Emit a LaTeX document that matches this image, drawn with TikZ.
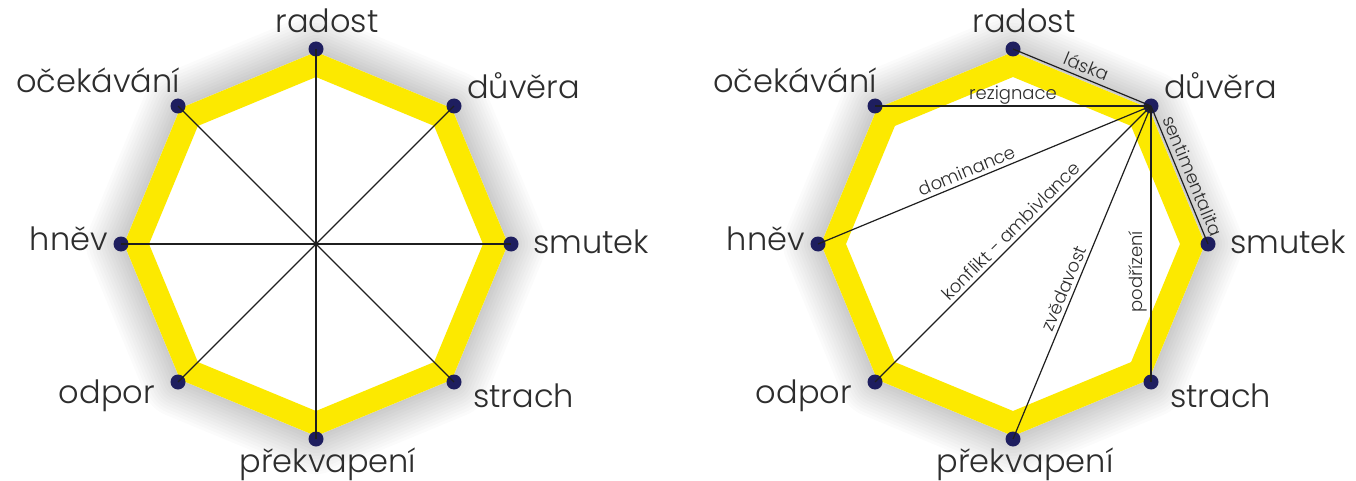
\documentclass[tikz,border=0pt]{standalone}
\usepackage{fontspec}
\IfFontExistsTF{Poppins Light}{\setmainfont{Poppins Light}}{\setmainfont{Poppins}}
\definecolor{octyellow}{RGB}{252,233,0}
\definecolor{dotblue}{RGB}{30,30,95}
\definecolor{txtgray}{RGB}{45,45,45}
\newcommand\octpath[1]{(0:#1) -- (45:#1) -- (90:#1) -- (135:#1) -- (180:#1) -- (225:#1) -- (270:#1) -- (315:#1) -- cycle}
\begin{document}
\begin{tikzpicture}[x=1pt,y=-1pt,
  vdot/.style={circle,fill=dotblue,inner sep=0pt,minimum size=15pt},
  lbl/.style={text=txtgray,font=\fontsize{32}{32}\selectfont,inner sep=0pt},
  elbl/.style={text=txtgray,font=\fontsize{18}{18}\selectfont,inner sep=3.5pt,sloped,above},
  spoke/.style={line width=1.2pt,draw=black!88}]
\useasboundingbox (0,0) rectangle (1356,481);
\fill[white] (0,0) rectangle (1356,481);
\foreach \p/\cx in {L/316,R/1013}{
  \begin{scope}[shift={(\cx,244)}]
    \foreach \w in {76,70,...,4}
      \draw[line width=\w pt,line join=round,black,opacity=0.017] \octpath{192};
    \fill[white] \octpath{192};
    \fill[octyellow,even odd rule] \octpath{192} \octpath{167};
    \node[vdot] (\p-radost) at (0,-195) {};
    \node[vdot] (\p-duvera) at (138,-138) {};
    \node[vdot] (\p-smutek) at (195,0) {};
    \node[vdot] (\p-strach) at (138,138) {};
    \node[vdot] (\p-prek) at (0,195) {};
    \node[vdot] (\p-odpor) at (-138,138) {};
    \node[vdot] (\p-hnev) at (-195,0) {};
    \node[vdot] (\p-ocek) at (-138,-138) {};
    \node[lbl,anchor=base] (\p-radost-t) at (11,-211) {radost};
    \node[lbl,anchor=base east] (\p-ocek-t) at (-136,-151) {očekávání};
    \node[lbl,anchor=base west] (\p-duvera-t) at (151,-145) {důvěra};
    \node[lbl,anchor=base east] (\p-hnev-t) at (-208,6) {hněv};
    \node[lbl,anchor=base west] (\p-smutek-t) at (217,9) {smutek};
    \node[lbl,anchor=base east] (\p-odpor-t) at (-161,159) {odpor};
    \node[lbl,anchor=base west] (\p-strach-t) at (157,163) {strach};
    \node[lbl,anchor=base] (\p-prek-t) at (12,228) {překvapení};
  \end{scope}
}
% left: four diameters
\draw[spoke] (L-radost.center) -- (L-prek.center);
\draw[spoke] (L-ocek.center) -- (L-strach.center);
\draw[spoke] (L-hnev.center) -- (L-smutek.center);
\draw[spoke] (L-duvera.center) -- (L-odpor.center);
% right: relations from duvera
\draw[spoke] (R-radost.center) -- node[elbl,pos=0.5,inner sep=4.5pt] {láska} (R-duvera.center);
\draw[spoke] (R-ocek.center) -- node[elbl,pos=0.5,inner sep=1.5pt] {rezignace} (R-duvera.center);
\draw[spoke] (R-hnev.center) -- node[elbl,pos=0.46] {dominance} (R-duvera.center);
\draw[spoke] (R-odpor.center) -- node[elbl,pos=0.52] {konflikt - ambivlance} (R-duvera.center);
\draw[spoke] (R-prek.center) -- node[elbl,pos=0.44] {zvědavost} (R-duvera.center);
\draw[spoke] (R-strach.center) -- node[elbl,pos=0.4] {podřízení} (R-duvera.center);
\draw[spoke] (R-duvera.center) -- node[elbl,pos=0.54,inner sep=4.5pt] {sentimentalita} (R-smutek.center);
\end{tikzpicture}
\end{document}
